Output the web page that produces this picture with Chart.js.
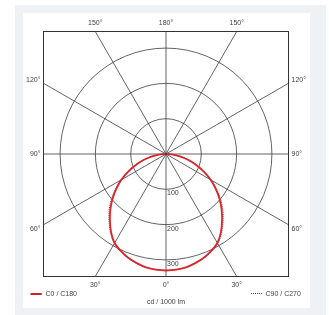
<!DOCTYPE html>
<html>
<head>
<meta charset="utf-8">
<script src="https://cdn.jsdelivr.net/npm/chart.js@4"></script>
<style>
  html, body { margin: 0; padding: 0; background: #ffffff; }
  #wrap { position: absolute; left: 0; top: 0; width: 329px; height: 315px; }
</style>
</head>
<body>
<div id="wrap"><canvas id="ldc_canvas"></canvas></div>
<script>
// gamma angles (deg) and luminous intensity (cd / 1000 lm)
var gammaAngles = [0, 5, 10, 15, 20, 25, 30, 35, 40, 45, 50, 55, 60, 65, 70, 75, 80, 85, 90];
var intensityC0C180 = [330, 329, 326, 320, 313, 303, 291, 271, 247, 223, 198, 172, 146, 118, 91, 66, 42, 20, 4];
var intensityC90C270 = [330, 329, 326, 321, 314, 305, 293, 274, 251, 228, 203, 176, 149, 121, 93, 67, 43, 21, 4];

var radialTicks = [100, 200, 300];
var angleRays = [0, 30, 60, 90, 120, 150, 180, 210, 240, 270, 300, 330];
var axisTitle = 'cd / 1000 lm';
var legendLabels = ['C0 / C180', 'C90 / C270'];

var textCol = '#444444';
var gridCol = '#3c3c3c';
var fontStr = '7px "Liberation Sans", Arial, sans-serif';

// polar (gamma, I) -> x/y values, left half then right half
function toXY(vals) {
  var pts = [];
  for (var i = gammaAngles.length - 1; i >= 0; i--) {
    var g = gammaAngles[i] * Math.PI / 180;
    pts.push({x: -vals[i] * Math.sin(g), y: -vals[i] * Math.cos(g)});
  }
  for (var j = 1; j < gammaAngles.length; j++) {
    var g2 = gammaAngles[j] * Math.PI / 180;
    pts.push({x: vals[j] * Math.sin(g2), y: -vals[j] * Math.cos(g2)});
  }
  return pts;
}

const polarGrid = {
  id: 'polarGrid',
  beforeDraw(chart) {
    const ctx = chart.ctx;
    ctx.save();
    ctx.fillStyle = '#ffffff';
    ctx.fillRect(0, 0, chart.width, chart.height);
    ctx.fillStyle = '#eff1f4';
    ctx.fillRect(15, 5, 311, 310);
    ctx.fillStyle = '#ffffff';
    ctx.fillRect(23, 13, 287, 295);
    ctx.restore();
  },
  beforeDatasetsDraw(chart) {
    const ctx = chart.ctx;
    const a = chart.chartArea;
    const xs = chart.scales.x, ys = chart.scales.y;
    const cx = xs.getPixelForValue(0), cy = ys.getPixelForValue(0);
    const unit = xs.getPixelForValue(100) - cx;

    ctx.save();
    ctx.beginPath();
    ctx.rect(a.left, a.top, a.right - a.left, a.bottom - a.top);
    ctx.clip();
    ctx.strokeStyle = gridCol;
    ctx.lineWidth = 0.8;
    radialTicks.forEach(function (r) {
      ctx.beginPath();
      ctx.arc(cx, cy, r / 100 * unit, 0, Math.PI * 2);
      ctx.stroke();
    });
    angleRays.forEach(function (deg) {
      const t = deg * Math.PI / 180;
      ctx.beginPath();
      ctx.moveTo(cx, cy);
      ctx.lineTo(cx + Math.sin(t) * 400, cy + Math.cos(t) * 400);
      ctx.stroke();
    });
    ctx.restore();

    ctx.save();
    ctx.strokeStyle = '#333333';
    ctx.lineWidth = 1;
    ctx.strokeRect(a.left, a.top, a.right - a.left, a.bottom - a.top);

    ctx.fillStyle = textCol;
    ctx.font = fontStr;
    ctx.textBaseline = 'middle';
    // intensity labels along the 0 deg ray
    ctx.textAlign = 'left';
    radialTicks.forEach(function (r) {
      ctx.fillText(String(r), cx + 1, ys.getPixelForValue(-r) + 4);
    });

    // angle labels at the frame
    const hw = a.right - cx, hh = a.bottom - cy;
    angleRays.forEach(function (deg) {
      const t = deg * Math.PI / 180;
      const dx = Math.sin(t), dy = Math.cos(t);
      const lbl = (deg <= 180 ? deg : 360 - deg) + '°';
      const tx = Math.abs(dx) > 1e-6 ? hw / Math.abs(dx) : Infinity;
      const ty = Math.abs(dy) > 1e-6 ? hh / Math.abs(dy) : Infinity;
      if (tx < ty) {
        const hy = cy + dy * tx;
        const off = Math.abs(dy) < 1e-6 ? 0 : (dy > 0 ? 4 : -3.5);
        if (dx > 0) { ctx.textAlign = 'left'; ctx.fillText(lbl, a.right + 3, hy + off); }
        else { ctx.textAlign = 'right'; ctx.fillText(lbl, a.left - 3, hy + off); }
      } else {
        const hx = cx + dx * ty;
        ctx.textAlign = 'center';
        if (dy > 0) ctx.fillText(lbl, hx, a.bottom + 8.5);
        else ctx.fillText(lbl, hx, a.top - 8.5);
      }
    });

    // legend + unit
    ctx.textAlign = 'left';
    ctx.strokeStyle = '#d42027';
    ctx.lineWidth = 2;
    ctx.beginPath(); ctx.moveTo(30.5, 294); ctx.lineTo(41.7, 294); ctx.stroke();
    ctx.fillText(legendLabels[0], 45.5, 294);
    ctx.strokeStyle = '#b0202a';
    ctx.lineWidth = 1;
    ctx.setLineDash([1, 1]);
    ctx.beginPath(); ctx.moveTo(251, 293.5); ctx.lineTo(263, 293.5); ctx.stroke();
    ctx.setLineDash([]);
    ctx.fillText(legendLabels[1], 265.5, 294);
    ctx.textAlign = 'center';
    ctx.fillText(axisTitle, cx, 302);
    ctx.restore();
  }
};

const config_ldc = {
  type: 'scatter',
  data: {
    datasets: [
      {
        label: legendLabels[0],
        data: toXY(intensityC0C180),
        borderColor: '#d9262c',
        backgroundColor: '#d9262c',
        borderWidth: 1.8,
        showLine: true,
        tension: 0.3,
        pointRadius: 0
      },
      {
        label: legendLabels[1],
        data: toXY(intensityC90C270),
        borderColor: '#a8303a',
        backgroundColor: '#a8303a',
        borderWidth: 1,
        borderDash: [1, 1],
        showLine: true,
        tension: 0.3,
        pointRadius: 0
      }
    ]
  },
  options: {
    responsive: true,
    maintainAspectRatio: false,
    animation: false,
    layout: { padding: { left: 43.5, right: 40.5, top: 31.5, bottom: 38.5 } },
    plugins: { legend: { display: false }, tooltip: { enabled: false } },
    scales: {
      x: { type: 'linear', min: -347, max: 347, display: false },
      y: { type: 'linear', min: -347, max: 347, display: false }
    }
  },
  plugins: [polarGrid]
};

const ChartLdc = new Chart(document.getElementById('ldc_canvas'), config_ldc);
</script>
</body>
</html>
